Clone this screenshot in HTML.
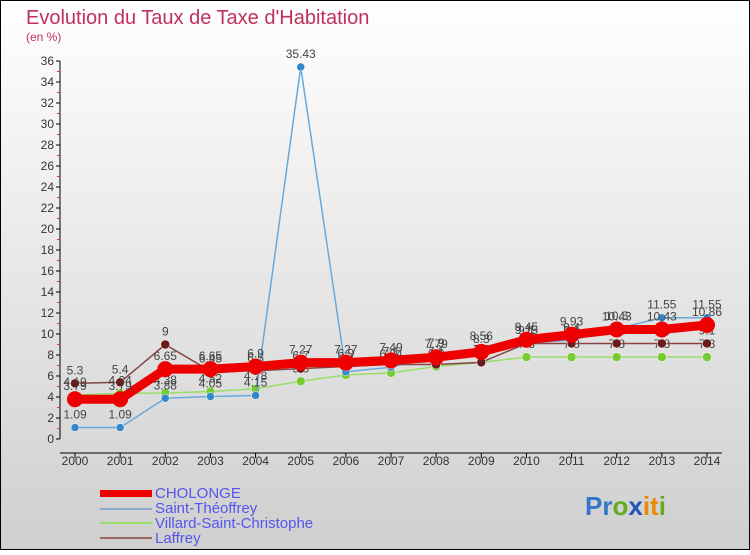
<!DOCTYPE html>
<html><head><meta charset="utf-8"><style>
html,body{margin:0;padding:0;}
body{width:750px;height:550px;overflow:hidden;font-family:"Liberation Sans",sans-serif;}
</style></head><body>
<svg id="chart" width="750" height="550" xmlns="http://www.w3.org/2000/svg">
<defs><linearGradient id="bg" x1="0" y1="0" x2="0" y2="1"><stop offset="0" stop-color="#ffffff"/><stop offset="1" stop-color="#cfcfcf"/></linearGradient></defs>
<rect x="0.5" y="0.5" width="749" height="549" fill="url(#bg)" stroke="#000"/>
<text x="26" y="24" font-size="20" fill="#c0305a">Evolution du Taux de Taxe d'Habitation</text>
<text x="26" y="41" font-size="12" fill="#c0305a">(en %)</text>
<g id="axes"></g><g id="series"></g>
<g font-size="15" fill="#5555ee">
<rect x="100" y="490" width="52" height="7" fill="#ee0000"/>
<text x="155" y="498">CHOLONGE</text>
<rect x="100" y="508" width="52" height="2" fill="#88aacc"/>
<text x="155" y="513">Saint-Théoffrey</text>
<rect x="100" y="522" width="52" height="2" fill="#99dd66"/>
<text x="155" y="528">Villard-Saint-Christophe</text>
<rect x="100" y="537" width="52" height="2" fill="#996666"/>
<text x="155" y="543">Laffrey</text>
</g>
<text x="585" y="515" font-size="26" font-weight="bold"><tspan fill="#3377cc">Pr</tspan><tspan fill="#66aa22">o</tspan><tspan fill="#2255bb">x</tspan><tspan fill="#ee8800">it</tspan><tspan fill="#66aa22">i</tspan></text>
</svg>
<script>
const years=[2000,2001,2002,2003,2004,2005,2006,2007,2008,2009,2010,2011,2012,2013,2014];
const cholonge=[3.79,3.79,6.65,6.65,6.9,7.27,7.27,7.49,7.79,8.3,9.45,9.93,10.43,10.43,10.86];
const saintTheoffrey=[1.09,1.09,3.88,4.05,4.15,35.43,6.4,6.84,7.9,8.56,9.15,9.4,10.5,11.55,11.55];
const villard=[4.19,4.34,4.38,4.52,4.78,5.5,6.1,6.3,6.9,7.3,7.8,7.8,7.8,7.8,7.8];
const laffrey=[5.3,5.4,9,6.45,6.5,6.7,6.9,7.1,7.1,7.3,9.1,9.1,9.1,9.1,9.1];
const yTicks=[0,2,4,6,8,10,12,14,16,18,20,22,24,26,28,30,32,34,36];
const NS="http://www.w3.org/2000/svg";
const x0=75,x1=707,yb=439,yt=61,ymax=36;
const xs=i=>x0+(x1-x0)*i/(years.length-1);
const ys=v=>yb-(yb-yt)*v/ymax;
function mk(tag,attrs,parent){const e=document.createElementNS(NS,tag);for(const k in attrs)e.setAttribute(k,attrs[k]);parent.appendChild(e);return e;}
const axes=document.getElementById('axes');
let ax=mk('line',{x1:x0-15,y1:yb,x2:x0-15,y2:yt,stroke:'#000'},axes);

let xa=mk('line',{x1:x0-15,y1:yb+14,x2:x1+15,y2:yb+14,stroke:'#000'},axes);

yTicks.forEach(t=>{const y=ys(t);
 mk('line',{x1:x0-19,y1:y,x2:x0-15,y2:y,stroke:'#000'},axes);
 if(t<ymax) mk('line',{x1:x0-18,y1:ys(t+1),x2:x0-15,y2:ys(t+1),stroke:'#e03030'},axes);
 const tx=mk('text',{x:x0-21,y:y+4,'font-size':12,'text-anchor':'end',fill:'#333'},axes);tx.textContent=t;
 });
years.forEach((yr,i)=>{const x=xs(i);
 mk('line',{x1:x,y1:yb+14,x2:x,y2:yb+19,stroke:'#000'},axes);
 const tx=mk('text',{x:x,y:yb+26,'font-size':12,'text-anchor':'middle',fill:'#333'},axes);tx.textContent=yr;
 });
const sg=document.getElementById('series');
function draw(vals,name,color,lw,r,mcol,labels){
 const g=mk('g',{},sg);
 const pts=vals.map((v,i)=>xs(i)+','+ys(v)).join(' ');
 const pl=mk('polyline',{points:pts,fill:'none',stroke:color,'stroke-width':lw,'stroke-linejoin':'round'},g);
 
 vals.forEach((v,i)=>{const c=mk('circle',{cx:xs(i),cy:ys(v),r:r,fill:mcol,stroke:'#fff','stroke-width':r>6?0:0.5},g);
  
  if(labels){const t=mk('text',{x:xs(i),y:ys(v)-9,'font-size':12,'text-anchor':'middle',fill:'#444'},g);t.textContent=v;
  }});
}
draw(villard,'villard','#99dd66',1.5,4.5,'#77cc33',true);
draw(saintTheoffrey,'saint-theoffrey','#66aadd',1.5,4,'#3388cc',true);
draw(laffrey,'laffrey','#884444',1.5,4.5,'#6a1a1a',true);
draw(cholonge,'cholonge','#ee0000',9,8,'#ee0000',true);
</script>
</body></html>
